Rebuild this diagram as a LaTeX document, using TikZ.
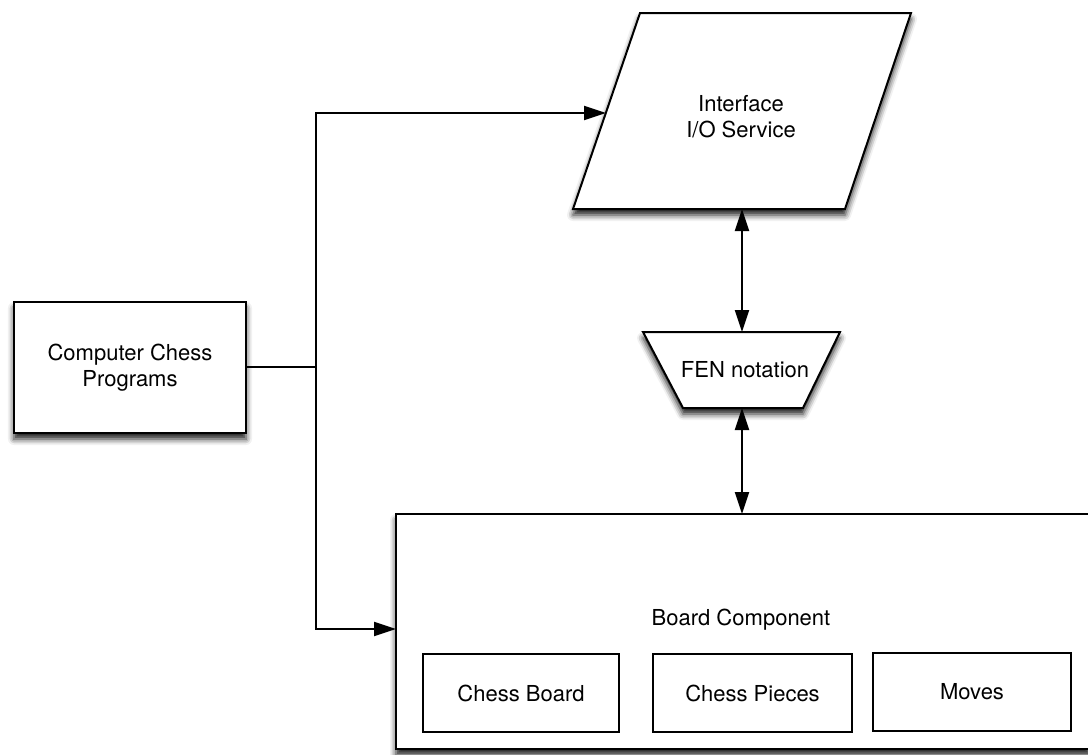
\documentclass[tikz,border=0pt]{standalone}
\usepackage{fontspec}
\setmainfont{TeX Gyre Heros}
\usetikzlibrary{arrows.meta,shadows.blur}
\begin{document}
\begin{tikzpicture}[x=1pt,y=-1pt,
  lbl/.style={font=\fontsize{22}{26}\selectfont, align=center},
  shadowed/.style={blur shadow={shadow xshift=0pt, shadow yshift=-6pt,
      shadow blur radius=6pt, shadow opacity=90}},
  block/.style={draw, line width=2pt, fill=white, inner sep=0pt, outer sep=0pt},
  subbox/.style={draw, line width=1.6pt, fill=white, inner sep=0pt, outer sep=0pt,
      minimum height=78pt, lbl},
  link/.style={line width=2pt, -{Triangle[length=22pt,width=14pt,fill=black]}},
  duplex/.style={line width=2pt,
      {Triangle[length=22pt,width=14pt,fill=black]}-{Triangle[length=22pt,width=14pt,fill=black]}}]
\useasboundingbox (0,0) rectangle (1088,755);

% program block on the left
\node[block, shadowed, lbl, minimum width=232pt, minimum height=131pt]
  (cc) at (130,367.5) {Computer Chess\\Programs};

% interface parallelogram
\coordinate (ifTL) at (640,13);
\coordinate (ifTR) at (911,13);
\coordinate (ifBR) at (845,209);
\coordinate (ifBL) at (573,209);
\path[block, shadowed] (ifTL) -- (ifTR) -- (ifBR) -- (ifBL) -- cycle;
\node[lbl] (iface) at (741,117) {Interface\\I/O Service};
\coordinate (ifIn) at (606,113);
\coordinate (ifOut) at (742,209);

% notation trapezium
\coordinate (fnTL) at (643,332);
\coordinate (fnTR) at (840,332);
\coordinate (fnBR) at (803,408);
\coordinate (fnBL) at (683,408);
\path[block, shadowed] (fnTL) -- (fnTR) -- (fnBR) -- (fnBL) -- cycle;
\node[lbl] (fen) at (745,370) {FEN notation};
\coordinate (fnIn) at (742,332);
\coordinate (fnOut) at (742,408);

% board component container
\node[block, shadowed, minimum width=694pt, minimum height=235pt]
  (board) at (743,631.5) {};
\node[lbl] (boardlbl) at (741,620) {Board Component};

\node[subbox, minimum width=196pt] (cb) at (521,693) {Chess Board};
\node[subbox, minimum width=199pt] (cp) at (752.5,693) {Chess Pieces};
\node[subbox, minimum width=198pt] (mv) at (972,692) {Moves};

% connectors
\coordinate (bus) at (316,367);
\draw[line width=2pt] (cc.east |- bus) -- (bus);
\draw[link] (bus) |- (ifIn);
\draw[link] (bus) |- ([yshift=2.5pt]board.west);
\draw[duplex] (ifOut) -- (fnIn);
\draw[duplex] (fnOut) -- (fnOut |- board.north);
\end{tikzpicture}
\end{document}
